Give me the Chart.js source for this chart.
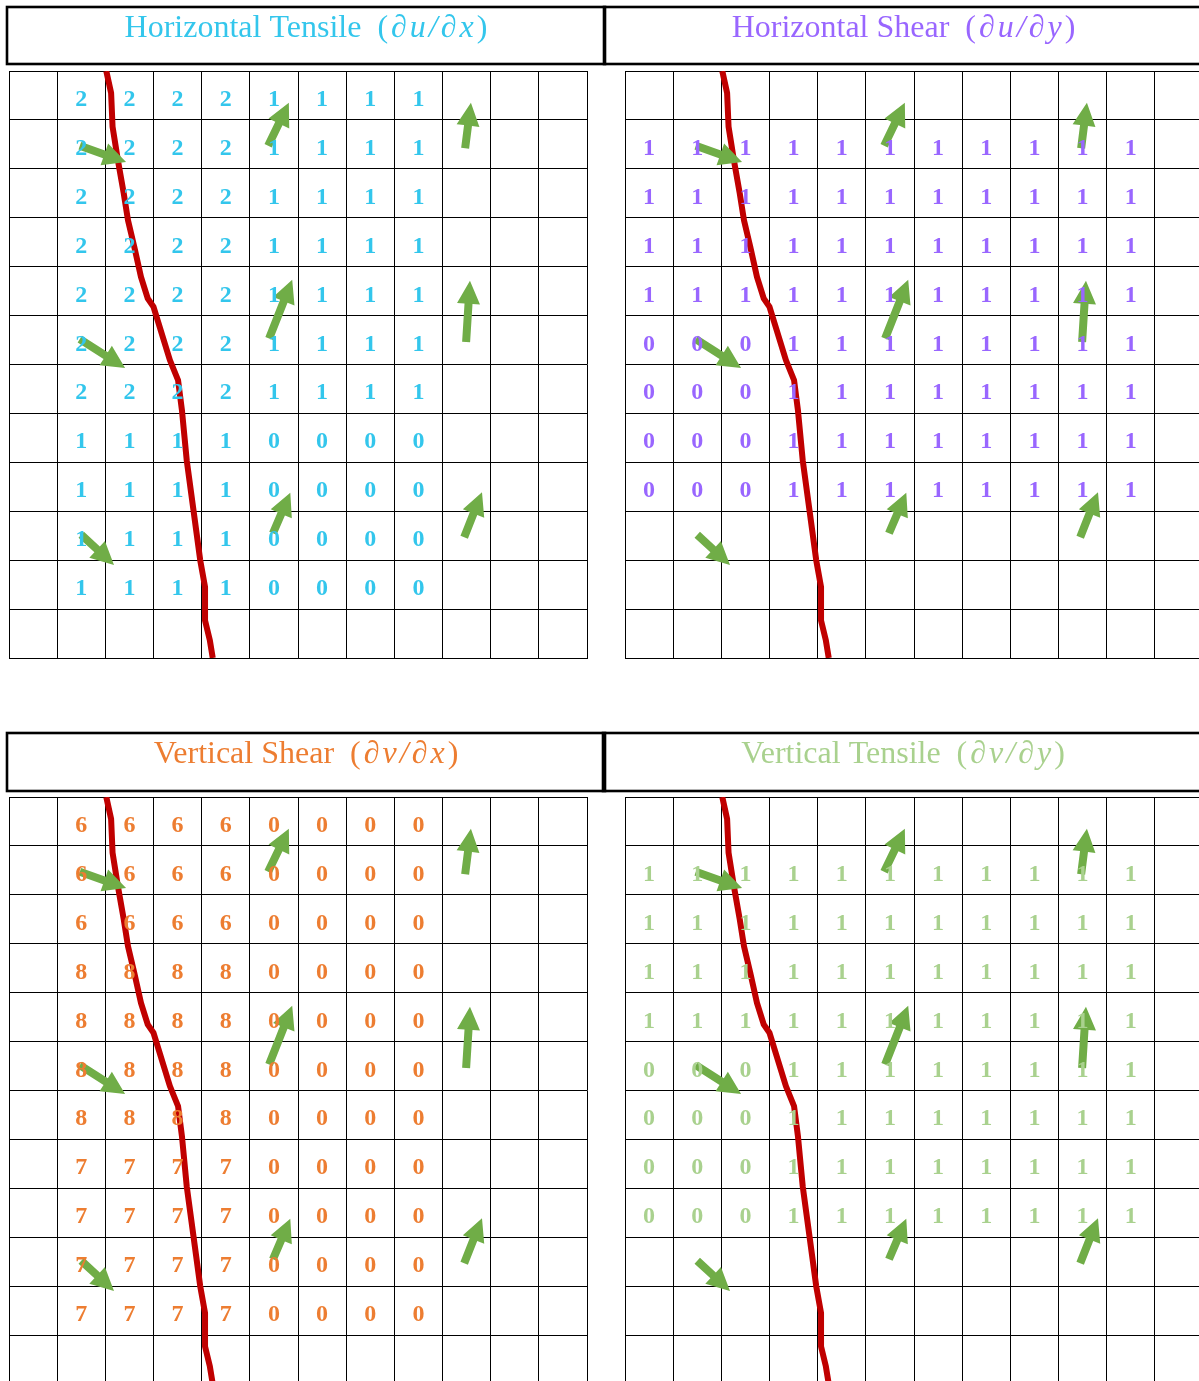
<!DOCTYPE html>
<html>
<head>
<meta charset="utf-8">
<script src="https://cdn.jsdelivr.net/npm/chart.js@4.4.1/dist/chart.umd.min.js"></script>
<style>
  html, body { margin: 0; padding: 0; background: #fff; overflow: hidden; width: 1199px; height: 1381px; }
  canvas { position: absolute; }
</style>
</head>
<body>
<canvas id="c0" width="612" height="720" style="left:0px;top:0px"></canvas>
<canvas id="c1" width="612" height="720" style="left:598px;top:0px"></canvas>
<canvas id="c2" width="612" height="680" style="left:0px;top:720px"></canvas>
<canvas id="c3" width="612" height="680" style="left:598px;top:720px"></canvas>
<script>
// grid cells: 12 columns x 12 rows, row 0 at the top
const N = null;

// Horizontal Tensile (du/dx)
const horizTensile = [
  [N, 2, 2, 2, 2, 1, 1, 1, 1, N, N, N],
  [N, 2, 2, 2, 2, 1, 1, 1, 1, N, N, N],
  [N, 2, 2, 2, 2, 1, 1, 1, 1, N, N, N],
  [N, 2, 2, 2, 2, 1, 1, 1, 1, N, N, N],
  [N, 2, 2, 2, 2, 1, 1, 1, 1, N, N, N],
  [N, 2, 2, 2, 2, 1, 1, 1, 1, N, N, N],
  [N, 2, 2, 2, 2, 1, 1, 1, 1, N, N, N],
  [N, 1, 1, 1, 1, 0, 0, 0, 0, N, N, N],
  [N, 1, 1, 1, 1, 0, 0, 0, 0, N, N, N],
  [N, 1, 1, 1, 1, 0, 0, 0, 0, N, N, N],
  [N, 1, 1, 1, 1, 0, 0, 0, 0, N, N, N],
  [N, N, N, N, N, N, N, N, N, N, N, N]
];

// Horizontal Shear (du/dy)
const horizShear = [
  [N, N, N, N, N, N, N, N, N, N, N, N],
  [1, 1, 1, 1, 1, 1, 1, 1, 1, 1, 1, N],
  [1, 1, 1, 1, 1, 1, 1, 1, 1, 1, 1, N],
  [1, 1, 1, 1, 1, 1, 1, 1, 1, 1, 1, N],
  [1, 1, 1, 1, 1, 1, 1, 1, 1, 1, 1, N],
  [0, 0, 0, 1, 1, 1, 1, 1, 1, 1, 1, N],
  [0, 0, 0, 1, 1, 1, 1, 1, 1, 1, 1, N],
  [0, 0, 0, 1, 1, 1, 1, 1, 1, 1, 1, N],
  [0, 0, 0, 1, 1, 1, 1, 1, 1, 1, 1, N],
  [N, N, N, N, N, N, N, N, N, N, N, N],
  [N, N, N, N, N, N, N, N, N, N, N, N],
  [N, N, N, N, N, N, N, N, N, N, N, N]
];

// Vertical Shear (dv/dx)
const vertShear = [
  [N, 6, 6, 6, 6, 0, 0, 0, 0, N, N, N],
  [N, 6, 6, 6, 6, 0, 0, 0, 0, N, N, N],
  [N, 6, 6, 6, 6, 0, 0, 0, 0, N, N, N],
  [N, 8, 8, 8, 8, 0, 0, 0, 0, N, N, N],
  [N, 8, 8, 8, 8, 0, 0, 0, 0, N, N, N],
  [N, 8, 8, 8, 8, 0, 0, 0, 0, N, N, N],
  [N, 8, 8, 8, 8, 0, 0, 0, 0, N, N, N],
  [N, 7, 7, 7, 7, 0, 0, 0, 0, N, N, N],
  [N, 7, 7, 7, 7, 0, 0, 0, 0, N, N, N],
  [N, 7, 7, 7, 7, 0, 0, 0, 0, N, N, N],
  [N, 7, 7, 7, 7, 0, 0, 0, 0, N, N, N],
  [N, N, N, N, N, N, N, N, N, N, N, N]
];

// Vertical Tensile (dv/dy)
const vertTensile = [
  [N, N, N, N, N, N, N, N, N, N, N, N],
  [1, 1, 1, 1, 1, 1, 1, 1, 1, 1, 1, N],
  [1, 1, 1, 1, 1, 1, 1, 1, 1, 1, 1, N],
  [1, 1, 1, 1, 1, 1, 1, 1, 1, 1, 1, N],
  [1, 1, 1, 1, 1, 1, 1, 1, 1, 1, 1, N],
  [0, 0, 0, 1, 1, 1, 1, 1, 1, 1, 1, N],
  [0, 0, 0, 1, 1, 1, 1, 1, 1, 1, 1, N],
  [0, 0, 0, 1, 1, 1, 1, 1, 1, 1, 1, N],
  [0, 0, 0, 1, 1, 1, 1, 1, 1, 1, 1, N],
  [N, N, N, N, N, N, N, N, N, N, N, N],
  [N, N, N, N, N, N, N, N, N, N, N, N],
  [N, N, N, N, N, N, N, N, N, N, N, N]
];

// red boundary line, in grid units (same in every panel)
const curveX = [2.02, 2.12, 2.15, 2.26, 2.38, 2.47, 2.60, 2.74, 2.88, 3.00, 3.34, 3.51, 3.59, 3.69, 3.83, 3.97, 4.07, 4.07, 4.17, 4.23];
const curveY = [0.00, 0.45, 1.14, 1.82, 2.49, 3.05, 3.59, 4.21, 4.65, 4.82, 5.91, 6.32, 6.93, 7.96, 8.98, 10.00, 10.55, 11.23, 11.64, 12.00];

// green arrows (tail -> tip), in grid units
const arrowTailX = [5.38, 9.47, 1.47, 5.40, 9.49, 1.47, 5.48, 9.45, 1.50];
const arrowTailY = [1.53, 1.58, 1.53, 5.47, 5.54, 5.48, 9.45, 9.53, 9.48];
const arrowTipX  = [5.81, 9.59, 2.43, 5.88, 9.57, 2.41, 5.84, 9.82, 2.18];
const arrowTipY  = [0.65, 0.65, 1.86, 4.27, 4.29, 6.07, 8.62, 8.61, 10.10];

const titles   = ['Horizontal Tensile', 'Horizontal Shear', 'Vertical Shear', 'Vertical Tensile'];
const formulas = ['\u2202u/\u2202x', '\u2202u/\u2202y', '\u2202v/\u2202x', '\u2202v/\u2202y'];
const colors   = ['#33C6EC', '#9966FF', '#ED7D31', '#A9D18E'];
const values   = [horizTensile, horizShear, vertShear, vertTensile];

// layout of each canvas (box = title frame, pad = space around the grid)
const panels = [
  { id: 'c0', box: [7, 7, 605, 64],   pad: { left: 9,  right: 25, top: 71, bottom: 62 } },
  { id: 'c1', box: [6, 7, 605, 64],   pad: { left: 27, right: 7,  top: 71, bottom: 62 } },
  { id: 'c2', box: [7, 13, 605, 71],  pad: { left: 9,  right: 25, top: 77, bottom: 16 } },
  { id: 'c3', box: [5, 13, 605, 71],  pad: { left: 27, right: 7,  top: 77, bottom: 16 } }
];

const GREEN = '#70AD47';
const RED = '#C00000';

function drawArrow(ctx, x1, y1, x2, y2) {
  const dx = x2 - x1, dy = y2 - y1;
  const len = Math.hypot(dx, dy);
  const ux = dx / len, uy = dy / len;
  const nx = -uy, ny = ux;
  const head = 23, hw = 11.5, sw = 4;
  const bx = x2 - ux * head, by = y2 - uy * head;
  ctx.beginPath();
  ctx.moveTo(x1 + nx * sw, y1 + ny * sw);
  ctx.lineTo(bx + nx * sw, by + ny * sw);
  ctx.lineTo(bx + nx * hw, by + ny * hw);
  ctx.lineTo(x2, y2);
  ctx.lineTo(bx - nx * hw, by - ny * hw);
  ctx.lineTo(bx - nx * sw, by - ny * sw);
  ctx.lineTo(x1 - nx * sw, y1 - ny * sw);
  ctx.closePath();
  ctx.fill();
}

const panelPlugin = {
  id: 'panelPlugin',
  afterDraw(chart) {
    const o = chart.options.plugins.panelPlugin;
    const ctx = chart.ctx;
    const [x1, y1, x2, y2] = o.box;
    ctx.save();
    // title frame
    ctx.lineWidth = 2.6;
    ctx.strokeStyle = '#000';
    ctx.strokeRect(x1, y1, x2 - x1, y2 - y1);
    // title text: plain words, then the math part glyph by glyph (spaced like a math font)
    const reg = '32px "Liberation Serif"';
    const ita = 'italic 32px "Liberation Serif"';
    const gap = 3;
    const parts = [[o.title + '  ', reg, 0], ['(', reg, gap]];
    Array.from(o.formula).forEach(ch => parts.push([ch, ita, gap]));
    parts.push([')', reg, 0]);
    let total = 0;
    parts.forEach(p => { ctx.font = p[1]; p.push(ctx.measureText(p[0]).width + p[2]); total += p[3]; });
    let x = (x1 + x2) / 2 - total / 2;
    ctx.fillStyle = o.color;
    ctx.textBaseline = 'alphabetic';
    ctx.textAlign = 'left';
    parts.forEach(p => { ctx.font = p[1]; ctx.fillText(p[0], x, y1 + 30); x += p[3]; });
    ctx.restore();
  },
  afterDatasetsDraw(chart) {
    const ctx = chart.ctx;
    const xs = chart.scales.x, ys = chart.scales.y;
    const o = chart.options.plugins.panelPlugin;
    ctx.save();
    // arrows
    ctx.fillStyle = GREEN;
    for (let i = 0; i < arrowTailX.length; i++) {
      drawArrow(ctx,
        xs.getPixelForValue(arrowTailX[i]), ys.getPixelForValue(arrowTailY[i]),
        xs.getPixelForValue(arrowTipX[i]), ys.getPixelForValue(arrowTipY[i]));
    }
    // cell numbers
    const ds = chart.data.datasets[1];
    const meta = chart.getDatasetMeta(1);
    ctx.font = 'bold 24px "Liberation Serif"';
    ctx.fillStyle = o.color;
    ctx.textAlign = 'center';
    ctx.textBaseline = 'alphabetic';
    meta.data.forEach((el, i) => {
      ctx.fillText(String(ds.data[i].v), el.x, el.y + 10.5);
    });
    ctx.restore();
  }
};

panels.forEach((p, k) => {
  const cells = [];
  values[k].forEach((row, r) => row.forEach((v, c) => {
    if (v !== null) cells.push({ x: c + 0.5, y: r + 0.5, v: v });
  }));
  const curve = curveX.map((x, i) => ({ x: x, y: curveY[i] }));

  const axis = {
    type: 'linear', min: 0, max: 12,
    ticks: { display: false, stepSize: 1 },
    grid: { color: '#000', lineWidth: 1, drawTicks: false },
    border: { color: '#000', width: 1 }
  };

  new Chart(document.getElementById(p.id), {
    type: 'scatter',
    data: {
      datasets: [
        { data: curve, showLine: true, borderColor: RED, borderWidth: 6, pointRadius: 0, tension: 0, fill: false },
        { data: cells, pointRadius: 0, showLine: false }
      ]
    },
    options: {
      responsive: false,
      animation: false,
      events: [],
      layout: { padding: p.pad },
      scales: {
        x: Object.assign({}, axis, { afterFit: s => { s.height = 0; } }),
        y: Object.assign({}, axis, { reverse: true, afterFit: s => { s.width = 0; } })
      },
      plugins: {
        legend: { display: false },
        tooltip: { enabled: false },
        panelPlugin: { box: p.box, title: titles[k], formula: formulas[k], color: colors[k] }
      }
    },
    plugins: [panelPlugin]
  });
});
</script>
</body>
</html>
